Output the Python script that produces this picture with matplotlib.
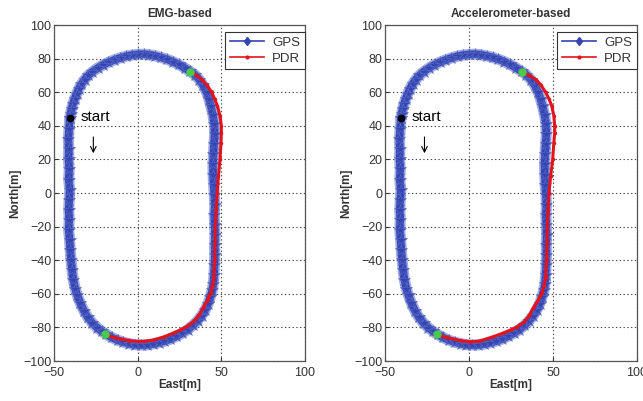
import matplotlib
matplotlib.use("Agg")
import matplotlib.pyplot as plt
from matplotlib.lines import Line2D

plt.rcParams["font.family"] = ["Liberation Sans", "DejaVu Sans"]

# GPS track (same in both panels), counter-clockwise from the start point
gps_east = [-40.6, -41.0, -41.4, -41.2, -41.3, -40.9, -41.2, -40.6, -40.9, -41.2,
            -40.9, -41.2, -40.7, -40.3, -39.8, -39.2, -38.4, -37.3, -36.0, -34.3,
            -32.2, -29.8, -27.0, -24.2, -21.5, -18.7, -15.5, -12.0, -8.5, -5.0,
            -1.5, 2.0, 5.5, 9.0, 12.5, 16.0, 19.5, 23.0, 26.5, 30.0,
            33.0, 35.8, 38.2, 40.3, 42.0, 43.4, 44.5, 45.2, 45.6, 45.9,
            46.1, 46.0, 46.2, 46.0, 45.8, 46.1, 45.8, 45.4, 45.1, 45.0,
            45.3, 45.6, 46.0, 45.8, 45.0, 43.8, 42.6, 41.2, 39.2, 36.8,
            34.2, 31.3, 28.0, 24.5, 21.0, 17.5, 14.0, 10.5, 7.0, 3.5,
            0.0, -3.5, -7.0, -10.5, -14.0, -17.5, -21.0, -24.0, -27.0, -29.5,
            -31.7, -33.6, -35.2, -36.5, -37.7, -38.7, -39.5, -40.1, -40.6]
gps_north = [44.4, 38.0, 32.0, 26.0, 20.0, 14.0, 8.0, 2.0, -4.0, -10.0,
             -16.0, -22.0, -28.0, -34.0, -40.0, -46.0, -52.0, -57.0, -61.0, -65.5,
             -70.0, -74.0, -77.5, -80.2, -82.3, -84.2, -86.0, -87.6, -88.8, -89.7,
             -90.3, -90.5, -90.4, -89.9, -89.1, -88.2, -87.0, -85.4, -83.5, -81.3,
             -78.8, -76.0, -73.0, -69.6, -66.0, -62.0, -58.0, -54.0, -49.0, -43.0,
             -37.0, -31.0, -25.0, -19.0, -13.0, -7.0, -1.0, 5.0, 11.0, 17.0,
             23.0, 29.0, 35.0, 41.0, 46.5, 51.5, 56.0, 60.0, 64.0, 67.5,
             70.3, 72.4, 74.5, 76.5, 78.2, 79.6, 80.7, 81.6, 82.3, 82.6,
             82.5, 82.1, 81.4, 80.4, 79.2, 77.8, 76.1, 74.3, 72.2, 70.0,
             67.5, 64.8, 62.0, 59.0, 56.0, 53.0, 50.0, 47.2, 44.4]

# PDR estimate, EMG-based (left panel)
pdr_emg_east = [-19.3, -15.0, -10.3, -5.0, 0.0, 3.6, 9.0, 15.5, 21.0, 25.5,
                29.5, 33.5, 36.8, 39.4, 41.8, 43.6, 44.8, 45.5, 46.0, 46.2,
                46.4, 46.9, 47.5, 48.3, 49.2, 49.8, 50.0, 50.0, 49.2, 47.6,
                46.0, 44.2, 41.5, 38.5, 35.0, 31.3]
pdr_emg_north = [-84.0, -85.8, -86.9, -87.8, -88.3, -88.3, -87.6, -85.7, -83.5, -81.5,
                 -79.3, -76.3, -72.5, -67.8, -63.5, -59.5, -55.0, -50.0, -40.0, -30.0,
                 -20.0, -10.0, 0.0, 10.0, 20.0, 30.0, 36.0, 40.0, 46.0, 52.0,
                 56.0, 60.0, 64.0, 67.5, 70.2, 72.2]

# PDR estimate, accelerometer-based (right panel)
pdr_acc_east = [-19.0, -14.5, -9.0, -4.0, 0.6, 6.0, 13.6, 20.0, 25.0, 28.6,
                32.5, 35.8, 38.6, 41.3, 43.4, 44.8, 45.6, 46.2, 46.4, 46.6,
                47.0, 47.6, 48.6, 49.8, 50.5, 51.0, 51.0, 50.5, 49.2, 47.6,
                45.6, 43.0, 40.0, 36.0, 31.6]
pdr_acc_north = [-84.0, -85.7, -87.0, -88.0, -88.5, -88.2, -85.8, -83.5, -81.4, -79.6,
                 -77.0, -73.0, -67.8, -63.5, -59.5, -55.0, -50.0, -40.0, -30.0, -20.0,
                 -10.0, 0.0, 10.0, 20.0, 30.0, 36.0, 40.0, 46.0, 52.0, 56.0,
                 60.0, 64.0, 67.5, 70.0, 71.8]

start_pt = (-40.6, 44.4)
titles = ["EMG-based", "Accelerometer-based"]
x_ticks = [-50, 0, 50, 100]
y_ticks = [-100, -80, -60, -40, -20, 0, 20, 40, 60, 80, 100]

BLUE = "#3444b2"
BLUE_EDGE = "#5a6cc8"
RED = "#e3131b"
GREEN = "#4cc94a"
TXT = "#333333"

fig = plt.figure(figsize=(6.43, 4.01), dpi=100)
axes = [fig.add_axes([54 / 643, 40 / 401, 251 / 643, 336 / 401]),
        fig.add_axes([385 / 643, 40 / 401, 252 / 643, 336 / 401])]

pdr_sets = [(pdr_emg_east, pdr_emg_north), (pdr_acc_east, pdr_acc_north)]

for ax, title, (pe, pn) in zip(axes, titles, pdr_sets):
    # GPS: wide fuzzy band of star markers
    ax.plot(gps_east, gps_north, color=BLUE_EDGE, lw=8, alpha=0.55, zorder=2,
            solid_capstyle="round")
    ax.plot(gps_east, gps_north, color=BLUE, lw=5.5, zorder=2,
            solid_capstyle="round")
    ax.plot(gps_east, gps_north, ls="none", marker="*", ms=9, color=BLUE,
            mec=BLUE_EDGE, mew=0.5, alpha=0.9, zorder=3)
    # PDR
    ax.plot(pe, pn, color=RED, lw=2.2, zorder=4)
    ax.plot(pe, pn, ls="none", marker=".", ms=3, color=RED, zorder=4)
    # switch points + start
    ax.plot([pe[0], pe[-1]], [pn[0], pn[-1]], ls="none", marker="o", ms=5,
            color=GREEN, zorder=5)
    ax.plot(*start_pt, marker="o", ms=4.5, color="black", zorder=6)
    ax.text(-34, 45, "start", fontsize=11, color="black", va="center", ha="left")
    ax.annotate("", xy=(-26.5, 22), xytext=(-26.5, 35),
                arrowprops=dict(arrowstyle="->", color="black", lw=0.8))

    ax.set_xlim(-50, 100)
    ax.set_ylim(-100, 100)
    ax.set_xticks(x_ticks)
    ax.set_yticks(y_ticks)
    ax.tick_params(direction="in", length=3, labelsize=9, colors=TXT)
    ax.tick_params(axis="x", pad=4)
    ax.tick_params(axis="y", pad=2)
    ax.grid(True, color="#444444", ls=(0, (1.2, 2.2)), lw=0.8)
    for sp in ax.spines.values():
        sp.set_edgecolor("#555555")
        sp.set_linewidth(0.9)
    ax.set_title(title, fontsize=8.5, fontweight="bold", color=TXT, pad=6)
    ax.set_xlabel("East[m]", fontsize=8.5, fontweight="bold", color=TXT, labelpad=0)
    ax.set_ylabel("North[m]", fontsize=8.5, fontweight="bold", color=TXT, labelpad=1)

    handles = [Line2D([], [], color=BLUE, lw=1.2, marker="d", ms=4.5),
               Line2D([], [], color=RED, lw=1.2, marker=".", ms=4)]
    leg = ax.legend(handles, ["GPS", "PDR"], loc="upper right",
                    bbox_to_anchor=(1.0, 0.98), borderaxespad=0, fontsize=9.5,
                    handlelength=2.6, handletextpad=0.6, borderpad=0.35,
                    labelspacing=0.3, fancybox=False, framealpha=1)
    leg.get_frame().set_edgecolor("#333333")
    leg.get_frame().set_linewidth(0.8)
    for t in leg.get_texts():
        t.set_color(TXT)

fig.savefig("out.png", dpi=100)
